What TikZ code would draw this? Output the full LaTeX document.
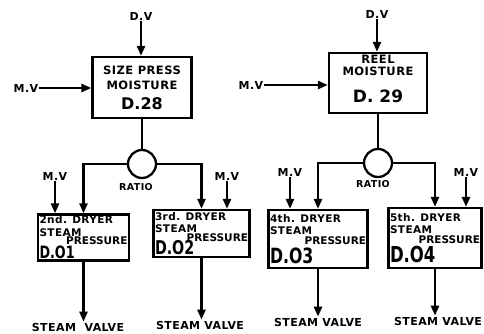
\documentclass[tikz,border=0pt]{standalone}
\usepackage{fontspec}
\usetikzlibrary{arrows.meta, positioning}
\newfontfamily\lettering{DejaVu Sans Bold}[LetterSpace=4]
\newfontfamily\plainlet{DejaVu Sans Bold}
\newfontfamily\numlet{DejaVu Sans Bold}[FakeStretch=0.75]

\begin{document}
\begin{tikzpicture}[
  x=1pt, y=-1pt,
  ctrl/.style={draw, line width=2.3pt, align=center, inner sep=2pt,
               font=\lettering\fontsize{11.5}{15}\selectfont},
  dryer/.style={draw, line width=2.3pt, align=left, inner sep=1.5pt,
                text width=#1, font=\lettering\fontsize{10.5}{12.5}\selectfont},
  ratio/.style={draw, circle, line width=2.3pt, minimum size=28pt, inner sep=0pt},
  lbl/.style={font=\lettering\fontsize{11}{13}\selectfont, inner sep=1pt},
  wire/.style={line width=2.4pt},
  arr/.style={wire, -{Triangle[length=10pt, width=8pt]}}
]
  \useasboundingbox (0,0) rectangle (484,334);

  % Size press loop
  \node[ctrl, minimum width=99pt, minimum height=61pt] (sp) at (142,87.5)
       {SIZE PRESS\\MOISTURE\\[5pt]{\plainlet\fontsize{16}{16}\selectfont D.28}};
  \node[lbl] (dv1) at (141,16) {D.V};
  \node[lbl] (mv1) at (26,88) {M.V};
  \node[ratio] (r1) at (142,164) {};
  \node[lbl, font=\lettering\fontsize{9.5}{11}\selectfont,
        below=3pt of r1, xshift=-6pt] (rt1) {RATIO};

  \node[dryer=88pt, minimum height=45pt] (d01) at (83.5,237.5)
       {2nd. DRYER\\STEAM\\[-4pt]\hspace*{\fill}{\plainlet PRESSURE}\\
        {\numlet\fontsize{17}{17}\selectfont D.O1}};
  \node[dryer=93pt, minimum height=47pt] (d02) at (201.5,233.5)
       {3rd. DRYER\\STEAM\\[-4pt]\hspace*{\fill}{\plainlet PRESSURE}\\[-2pt]
        {\numlet\fontsize{19}{19}\selectfont D.O2}};
  \node[lbl] (mv3) at (55,176) {M.V};
  \node[lbl] (mv4) at (227,176) {M.V};
  \node[lbl] (sv1) at (78,327) {STEAM\ \ VALVE};
  \node[lbl] (sv2) at (200,325) {STEAM VALVE};

  \draw[arr] (dv1.south) -- (dv1.south |- sp.north);
  \draw[arr] (mv1.east) -- (mv1.east -| sp.west);
  \draw[wire] (sp.south) -- (r1.north);
  \draw[arr] (r1.west) -| (d01.north);
  \draw[arr] (r1.east) -| (d02.north);
  \draw[arr] (mv3.south) -- (mv3.south |- d01.north);
  \draw[arr] (mv4.south) -- (mv4.south |- d02.north);
  \draw[arr] (d01.south) -- (d01.south |- sv1.north);
  \draw[arr] (d02.south) -- (d02.south |- sv2.north);

  % Reel loop
  \node[ctrl, minimum width=98pt, minimum height=60pt, text depth=8pt] (reel) at (378,83)
       {REEL\\[-3pt]MOISTURE\\[12pt]{\plainlet\fontsize{17}{17}\selectfont D. 29}};
  \node[lbl] (dv2) at (377,14) {D.V};
  \node[lbl] (mv2) at (251,85) {M.V};
  \node[ratio] (r2) at (378,163) {};
  \node[lbl, font=\lettering\fontsize{9.5}{11}\selectfont,
        below=1pt of r2, xshift=-5pt] (rt2) {RATIO};

  \node[dryer=96pt, minimum height=58pt] (d03) at (318,239)
       {4th. DRYER\\STEAM\\[-3pt]\hspace*{\fill}{\plainlet PRESSURE}\\[2pt]
        {\numlet\fontsize{21}{21}\selectfont D.O3}};
  \node[dryer=90pt, minimum height=60pt] (d04) at (435,238)
       {5th. DRYER\\STEAM\\[-3pt]\hspace*{\fill}{\plainlet PRESSURE}\\[2pt]
        {\numlet\fontsize{22}{22}\selectfont D.O4}};
  \node[lbl] (mv5) at (290,172) {M.V};
  \node[lbl] (mv6) at (466,172) {M.V};
  \node[lbl] (sv3) at (318,322) {STEAM VALVE};
  \node[lbl] (sv4) at (438,321) {STEAM VALVE};

  \draw[arr] (dv2.south) -- (dv2.south |- reel.north);
  \draw[arr] (mv2.east) -- (mv2.east -| reel.west);
  \draw[wire] (reel.south) -- (r2.north);
  \draw[arr] (r2.west) -| (d03.north);
  \draw[arr] (r2.east) -| (d04.north);
  \draw[arr] (mv5.south) -- (mv5.south |- d03.north);
  \draw[arr] (mv6.south) -- (mv6.south |- d04.north);
  \draw[arr] (d03.south) -- (d03.south |- sv3.north);
  \draw[arr] (d04.south) -- (d04.south |- sv4.north);
\end{tikzpicture}
\end{document}
